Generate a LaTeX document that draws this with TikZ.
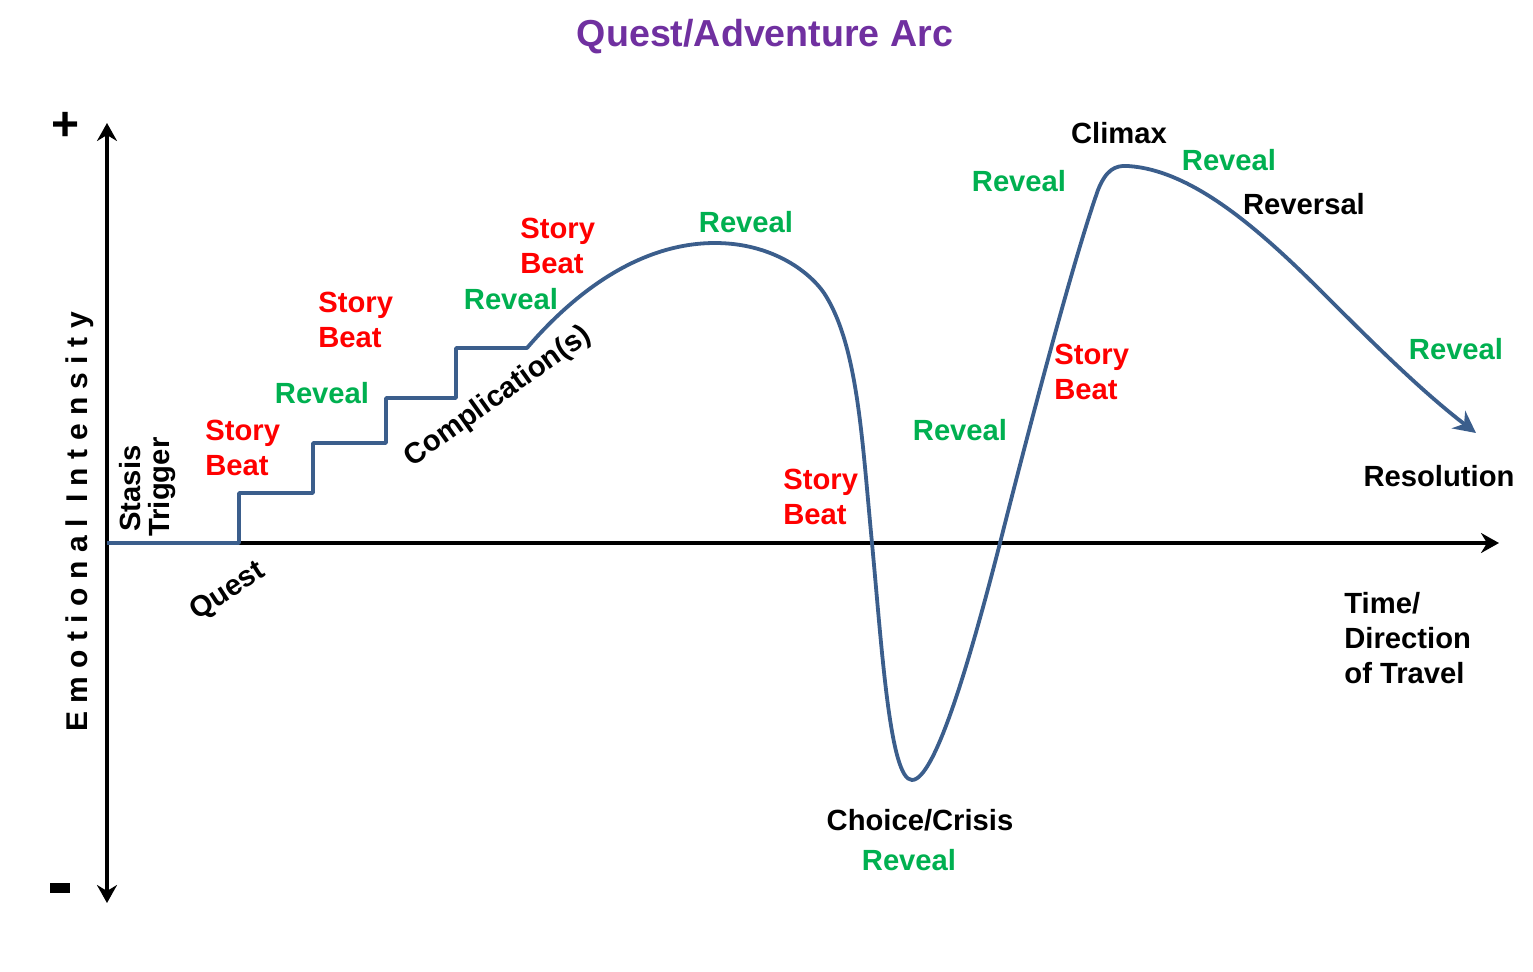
\documentclass[tikz,border=0pt]{standalone}
\usepackage{fontspec}
\setmainfont{Liberation Sans}
\usetikzlibrary{arrows.meta}
\definecolor{arcblue}{RGB}{59,94,140}
\definecolor{revgreen}{RGB}{0,176,80}
\definecolor{titlepurple}{RGB}{112,48,160}
\begin{document}
\begin{tikzpicture}[x=0.5pt,y=-0.5pt,
  lbl/.style={font=\fontsize{14.6}{17.5}\selectfont\bfseries, inner sep=0pt},
  beat/.style={lbl, text=red, align=left, anchor=west},
  reveal/.style={lbl, text=revgreen},
  blk/.style={lbl, text=black},
  axis/.style={line width=1.6pt, -{Stealth[length=9pt,width=10pt,inset=3pt]}},
  arc/.style={line width=1.9pt, draw=arcblue, line join=round}]
\useasboundingbox (0,0) rectangle (1533,971);
% axes
\coordinate (origin) at (107,543);
\coordinate (ytop) at (107,123);
\coordinate (ybot) at (107,903);
\coordinate (xend) at (1499,543);
\draw[axis] (origin) -- (xend);
\draw[axis] (origin) -- (ytop);
\draw[axis] (origin) -- (ybot);
\node[blk, font=\fontsize{24}{24}\selectfont\bfseries] (plus) at (66,126) {+};
\fill (50,883) rectangle (70,893);
% curve
\coordinate (s0) at (107,543);
\draw[arc] (s0) -- (239,543) -- (239,493) -- (313,493) -- (313,443) -- (386,443) -- (386,398) -- (456,398) -- (456,348) -- (527,348)
  .. controls (575,292) and (640,243) .. (715,243)
  .. controls (770,243) and (808,270) .. (824,293)
  .. controls (858,345) and (862,440) .. (872,543)
  .. controls (882,650) and (890,780) .. (912,780)
  .. controls (935,780) and (970,660) .. (1000,543)
  .. controls (1035,405) and (1075,255) .. (1098,190)
  .. controls (1106,170) and (1115,165) .. (1128,166)
  .. controls (1190,170) and (1255,225) .. (1320,290);
\coordinate (cend) at (1476,433);
\draw[arc, -{Stealth[length=11pt,width=11pt,inset=3.5pt]}] (1320,290) .. controls (1370,340) and (1420,390) .. (cend);
% labels
\node[titlepurple, font=\fontsize{18.8}{22}\selectfont\bfseries] (title) at (765,37) {Quest/Adventure Arc};
\node[lbl, rotate=90, font=\fontsize{15}{17}\selectfont\bfseries\addfontfeature{LetterSpace=28}] (ylab) at (80,522) {Emotional Intensity};
\node[lbl, rotate=90, anchor=base west] (stasis) at (140,532) {Stasis};
\node[lbl, rotate=90, anchor=base west] (trigger) at (169,537) {Trigger};
\node[blk, rotate=33] (quest) at (228,592) {Quest};
\node[blk, rotate=35.5] (compl) at (498,397) {Complication(s)};
\node[beat] (b1) at (205,447.5) {Story\\Beat};
\node[reveal] (r1) at (322,393) {Reveal};
\node[beat] (b2) at (318,319.5) {Story\\Beat};
\node[reveal] (r2) at (511,299) {Reveal};
\node[beat] (b3) at (520,245.5) {Story\\Beat};
\node[reveal] (r3) at (746,222) {Reveal};
\node[beat] (b4) at (783,496.5) {Story\\Beat};
\node[reveal] (r4) at (960,430) {Reveal};
\node[blk] (crisis) at (920,820) {Choice/Crisis};
\node[reveal] (r5) at (909,860) {Reveal};
\node[reveal] (r6) at (1019,181) {Reveal};
\node[beat] (b5) at (1054,371.5) {Story\\Beat};
\node[blk] (climax) at (1119,133) {Climax};
\node[reveal] (r7) at (1229,160) {Reveal};
\node[blk] (reversal) at (1304,204) {Reversal};
\node[reveal] (r8) at (1456,349) {Reveal};
\node[blk] (resol) at (1439,476) {Resolution};
\node[blk, align=left, anchor=west] (time) at (1344,638) {Time/\\Direction\\of Travel};
\end{tikzpicture}
\end{document}
